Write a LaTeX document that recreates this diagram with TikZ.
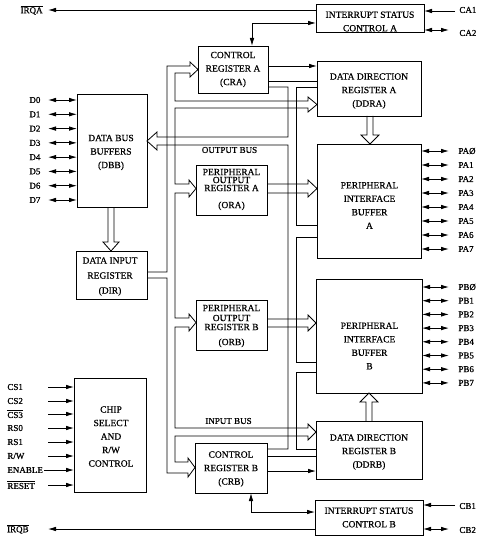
\documentclass[tikz,border=0pt]{standalone}
\usepackage{fontspec}
\setmainfont{Liberation Serif}
\newfontfamily\heavy{Liberation Serif}[FakeBold=0.6]
\usetikzlibrary{arrows.meta}
\newcommand\ovl[1]{$\overline{\mbox{#1}}$}
\newcommand\cspin[4]{%
  \node[pinlbl,anchor=west] (#1) at (7,#2) {#3};
  \coordinate (#1p) at (#4,#2);
  \draw[sig] (#1p) -- (#1p -| csc.west);}
\begin{document}
\begin{tikzpicture}[x=1pt,y=-1pt,line width=0.8pt,line join=miter,
  box/.style={draw,line width=0.8pt,inner sep=0pt,outer sep=0pt},
  txt/.style={font=\heavy\fontsize{9.5}{13.5}\selectfont,align=center,inner sep=0pt},
  pinlbl/.style={font=\heavy\fontsize{9}{10}\selectfont,inner sep=0pt},
  sig/.style={-{Latex[length=8pt,width=4.5pt]}},
  bisig/.style={{Latex[length=8pt,width=4.5pt]}-{Latex[length=8pt,width=4.5pt]}},
  bus/.style={line width=0.8pt}]
\fill[white] (0,0) rectangle (476,537);
\useasboundingbox (0,0) rectangle (476,537);

% ---------- boxes ----------
\node[box,minimum width=108pt,minimum height=28pt] (isca) at (370,18) {};
\node[txt] (iscaT) at (370,21.5) {INTERRUPT STATUS\\CONTROL A};
\node[box,minimum width=70pt,minimum height=47pt] (cra) at (233,69.5) {};
\node[txt] (craT) at (233,69.5) {CONTROL\\REGISTER A\\(CRA)};
\node[box,minimum width=104pt,minimum height=55pt] (ddra) at (369,88.5) {};
\node[txt] (ddraT) at (369,91) {DATA DIRECTION\\REGISTER A\\(DDRA)};
\node[box,minimum width=70pt,minimum height=113pt] (dbb) at (112,150.5) {};
\node[txt] (dbbT) at (111,152.5) {DATA BUS\\BUFFERS\\(DBB)};
\node[box,minimum width=71pt,minimum height=48pt] (dir) at (111.5,275) {};
\node[txt,font=\heavy\fontsize{9.5}{15}\selectfont] (dirT) at (110,276.5) {DATA INPUT\\REGISTER\\(DIR)};
\node[box,minimum width=71pt,minimum height=50pt] (ora) at (231.5,190) {};
\node[txt] (oraT) at (231.5,189.5) {PERIPHERAL\\[-5.5pt]OUTPUT\\[-5.5pt]REGISTER A\\[3.5pt](ORA)};
\node[box,minimum width=104pt,minimum height=114pt] (piba) at (369,201) {};
\node[txt] (pibaT) at (369.5,205.5) {PERIPHERAL\\INTERFACE\\BUFFER\\A};
\node[box,minimum width=71pt,minimum height=50pt] (orb) at (231.5,325) {};
\node[txt] (orbT) at (231.5,326) {PERIPHERAL\\[-3.5pt]OUTPUT\\[-4.5pt]REGISTER B\\[1.5pt](ORB)};
\node[box,minimum width=106pt,minimum height=114pt] (pibb) at (369,336) {};
\node[txt] (pibbT) at (369.5,346) {PERIPHERAL\\INTERFACE\\BUFFER\\B};
\node[box,minimum width=106pt,minimum height=58pt] (ddrb) at (369,450) {};
\node[txt] (ddrbT) at (369,452) {DATA DIRECTION\\REGISTER B\\(DDRB)};
\node[box,minimum width=72pt,minimum height=50pt] (crb) at (231,468) {};
\node[txt] (crbT) at (231,469) {CONTROL\\REGISTER B\\(CRB)};
\node[box,minimum width=108pt,minimum height=35pt] (iscb) at (369,517.5) {};
\node[txt] (iscbT) at (369,517.5) {INTERRUPT STATUS\\CONTROL B};
\node[box,minimum width=72pt,minimum height=114pt] (csc) at (110,435) {};
\node[txt] (cscT) at (111,436.5) {CHIP\\SELECT\\AND\\R/W\\CONTROL};

% ---------- bus labels ----------
\node[pinlbl] (obus) at (229.5,150) {OUTPUT BUS};
\node[pinlbl] (ibus) at (228.5,421) {INPUT BUS};

% ---------- input bus (DIR to registers) ----------
\draw[bus] (dir.east |- 0,272) -- (167,272) -- (167,66) -- (190,66) -- (190,62)
  -- (cra.west |- 0,69.5) -- (190,77) -- (190,73) -- (175,73) -- (175,101)
  -- (308,101) -- (308,97) -- (ddra.west |- 0,104.5) -- (308,112) -- (308,108)
  -- (175,108) -- (175,184) -- (189,184) -- (189,180) -- (ora.west |- 0,188.5)
  -- (189,197) -- (189,193) -- (175,193) -- (175,318) -- (189,318) -- (189,314)
  -- (orb.west |- 0,322.5) -- (189,331) -- (189,327) -- (175,327) -- (175,428)
  -- (308,428) -- (308,424) -- (ddrb.west |- 0,432) -- (308,440) -- (308,436)
  -- (175,436) -- (175,462) -- (188,462) -- (188,458) -- (crb.west |- 0,467.5)
  -- (188,477) -- (188,473) -- (167,473) -- (167,278) -- (dir.east |- 0,278);

% ---------- output bus (registers to DBB) ----------
\draw[bus] (cra.east |- 0,81) -- (ddra.west |- 0,81);
\draw[bus] (cra.east |- 0,87) -- (288,87) -- (288,137) -- (157,137) -- (157,132)
  -- (dbb.east |- 0,141) -- (157,150) -- (157,145) -- (288,145) -- (288,449)
  -- (crb.east |- 0,449);
\draw[bus] (ddra.west |- 0,87) -- (296,87) -- (296,225) -- (piba.west |- 0,225);
\draw[bus] (piba.west |- 0,237) -- (296,237) -- (296,362) -- (pibb.west |- 0,362);
\draw[bus] (pibb.west |- 0,372) -- (296,372) -- (296,449) -- (ddrb.west |- 0,449);
\draw[bus] (crb.east |- 0,456) -- (ddrb.west |- 0,456);

% ---------- wide arrows ----------
\draw[bus] (ora.east |- 0,184) -- (308,184) -- (308,180) -- (piba.west |- 0,188.5)
  -- (308,197) -- (308,193) -- (ora.east |- 0,193);
\draw[bus] (orb.east |- 0,319) -- (308,319) -- (308,315) -- (pibb.west |- 0,323)
  -- (308,331) -- (308,327) -- (orb.east |- 0,327);
\draw[bus] (dbb.south -| 108,0) -- (108,242) -- (103,242) -- (dir.north -| 111,0)
  -- (119,242) -- (114,242) -- (dbb.south -| 114,0);
\draw[bus] (ddra.south -| 367,0) -- (367,135) -- (361,135) -- (piba.north -| 370,0)
  -- (379,135) -- (373,135) -- (ddra.south -| 373,0);
\draw[bus] (ddrb.north -| 366,0) -- (366,402) -- (360,402) -- (pibb.south -| 369,0)
  -- (378,402) -- (372,402) -- (ddrb.north -| 372,0);

% ---------- control signals ----------
\draw[sig] (cra.east |- 0,66) -- (ddra.west |- 0,66);
\draw[sig] (crb.east |- 0,471) -- (ddrb.west |- 0,471);
\coordinate (cka) at (252,23);
\draw[bisig] (cka |- cra.north) -- (cka) -- (cka -| isca.west);
\coordinate (ckb) at (251,512);
\draw[bisig] (ckb |- crb.south) -- (ckb) -- (ckb -| iscb.west);

% ---------- interrupt pins ----------
\node[pinlbl,anchor=east] (irqa) at (43,10) {\ovl{IRQA}};
\coordinate (irqap) at (48,10);
\draw[sig] (isca.west |- irqap) -- (irqap);
\node[pinlbl,anchor=east] (irqb) at (29,529) {\ovl{IRQB}};
\coordinate (irqbp) at (48,529);
\draw[sig] (iscb.west |- irqbp) -- (irqbp);
\node[pinlbl,anchor=west] (ca1) at (459,10) {CA1};
\coordinate (ca1p) at (455,11);
\draw[sig] (ca1p) -- (ca1p -| isca.east);
\node[pinlbl,anchor=west] (ca2) at (459,33) {CA2};
\coordinate (ca2p) at (449,30);
\draw[bisig] (ca2p) -- (ca2p -| isca.east);
\node[pinlbl,anchor=west] (cb1) at (459,506) {CB1};
\coordinate (cb1p) at (455,505);
\draw[sig] (cb1p) -- (cb1p -| iscb.east);
\node[pinlbl,anchor=west] (cb2) at (459,530) {CB2};
\coordinate (cb2p) at (449,529);
\draw[bisig] (cb2p) -- (cb2p -| iscb.east);

% ---------- data pins ----------
\foreach \i in {0,...,7}{
  \pgfmathsetmacro\yy{100+\i*100/7}
  \node[pinlbl,anchor=west] (d\i) at (29,\yy) {D\i};
  \coordinate (dp\i) at (48,\yy);
  \draw[bisig] (dp\i) -- (dp\i -| dbb.west);
}
\foreach \i/\t in {0/Ø,1/1,2/2,3/3,4/4,5/5,6/6,7/7}{
  \pgfmathsetmacro\yy{151+\i*14}
  \node[pinlbl,anchor=west] (pa\i) at (458,\yy) {PA\t};
  \coordinate (pap\i) at (449,\yy);
  \draw[bisig] (pap\i -| piba.east) -- (pap\i);
  \pgfmathsetmacro\yb{287+\i*13.7}
  \node[pinlbl,anchor=west] (pb\i) at (458,\yb) {PB\t};
  \coordinate (pbp\i) at (449,\yb);
  \draw[bisig] (pbp\i -| pibb.east) -- (pbp\i);
}

% ---------- chip select pins ----------
\cspin{cs1}{387}{CS1}{48}
\cspin{cs2}{401}{CS2}{48}
\cspin{cs3}{414}{\ovl{CS3}}{48}
\cspin{rs0}{428}{RS0}{48}
\cspin{rs1}{442}{RS1}{48}
\cspin{rw}{456}{R/W}{48}
\cspin{en}{470}{ENABLE}{44}
\cspin{rst}{485}{\ovl{RESET}}{48}
\end{tikzpicture}
\end{document}
